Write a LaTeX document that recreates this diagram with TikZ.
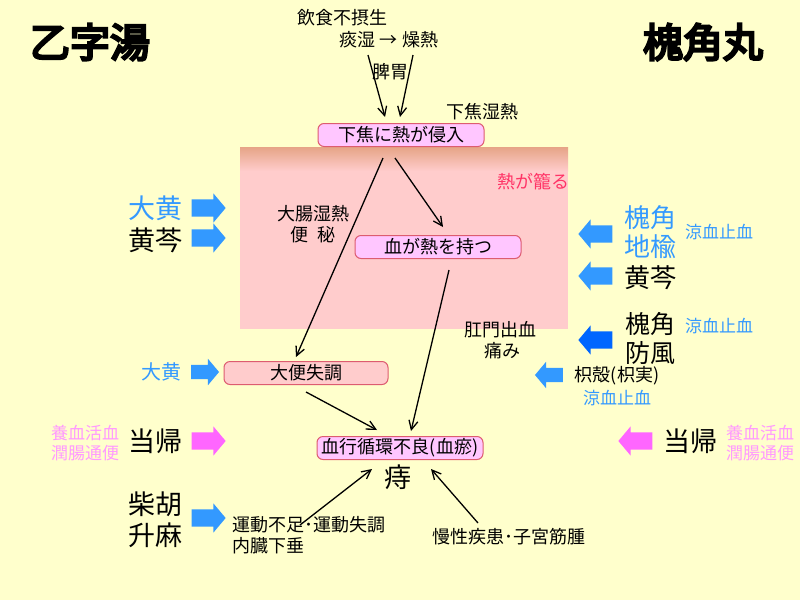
\documentclass[tikz,border=0pt]{standalone}
\usepackage{fontspec}
\usetikzlibrary{shapes.arrows,arrows.meta}
\newfontfamily\cjk{Noto Sans CJK JP}
\newfontfamily\brush[FakeBold=6]{Noto Sans CJK JP}

\definecolor{paper}{HTML}{FFFFCC}
\definecolor{zone}{HTML}{FFCCCC}
\definecolor{bandtop}{HTML}{E6A486}
\definecolor{boxpink}{HTML}{FFC6FF}
\definecolor{boxline}{HTML}{DD5C70}
\definecolor{medblue}{HTML}{3399FF}
\definecolor{deepblue}{HTML}{0066FF}
\definecolor{medpink}{HTML}{FF66FF}
\definecolor{softpink}{HTML}{FF99FF}
\definecolor{hotred}{HTML}{FF3366}

\begin{document}
\begin{tikzpicture}[x=1pt, y=-1pt,
    every node/.style={font=\cjk\fontsize{18}{21}\selectfont, inner sep=0pt},
    big/.style={font=\cjk\fontsize{27}{31}\selectfont, align=center},
    small/.style={font=\cjk\fontsize{17}{20}\selectfont, align=center},
    box/.style={draw=boxline, fill=boxpink, rounded corners=6pt, line width=1pt, minimum width=166pt, minimum height=23pt},
    blockr/.style={single arrow, fill=medblue, inner sep=8.5pt, minimum height=34pt, single arrow head extend=6pt, single arrow tip angle=100},
    blockl/.style={blockr, shape border rotate=180},
    flow/.style={-{Straight Barb[length=9pt, width=9pt]}, line width=1.3pt}]

    \fill[paper] (0,0) rectangle (800,600);
    \shade[top color=bandtop, bottom color=zone] (240,147) rectangle (568,171);
    \fill[zone] (240,171) rectangle (568,329);

    \node[font=\brush\fontsize{40}{44}\selectfont] (T1) at (90,42) {乙字湯};
    \node[font=\brush\fontsize{40}{44}\selectfont] (T2) at (703,42) {槐角丸};

    \node (A) at (342,18) {飲食不摂生};
    \node (B) at (389,40) {痰湿 → 燥熱};
    \node (C) at (390,72) {脾胃};
    \node (D) at (482,112) {下焦湿熱};
    \node[box] (E) at (401,135) {下焦に熱が侵入};
    \node[text=hotred] (F) at (533,182) {熱が籠る};
    \node[align=center] (G) at (313,224) {大腸湿熱\\便\ \ 秘};
    \node[box] (H) at (438,247) {血が熱を持つ};
    \node[align=center] (I) at (500,340) {肛門出血\\\ 痛み};
    \node[box, fill=zone, minimum width=164pt] (J) at (306,373) {大便失調};
    \node[box] (K) at (400,448) {血行循環不良(血瘀)};
    \node[big] (L) at (398,477) {痔};
    \node[align=left, anchor=north west] (M) at (232,516) {運動不足･運動失調\\内臓下垂};
    \node (N) at (509,537) {慢性疾患･子宮筋腫};

    \coordinate (a1) at (368,55);
    \coordinate (b1) at (413,55);
    \coordinate (c1) at (383,158);
    \coordinate (d1) at (395,158);
    \coordinate (e1) at (449,270);
    \coordinate (f1) at (306,392);
    \coordinate (g1) at (300,525);
    \coordinate (h1) at (478,523);

    \draw[flow] (a1) -- (385,117);
    \draw[flow] (b1) -- (400,117);
    \draw[flow] (c1) -- (296,357);
    \draw[flow] (d1) -- (443,227);
    \draw[flow] (e1) -- (411,431);
    \draw[flow] (f1) -- (377,430);
    \draw[flow] (g1) -- (372,469);
    \draw[flow] (h1) -- (431,469);

    \node[big, text=medblue] (P1) at (155,208) {大黄};
    \node[big] (P2) at (155,240) {黄芩};
    \node[blockr] (Q1) at (205,208) {};
    \node[blockr] (Q2) at (205,238) {};

    \node[small, text=medblue, font=\cjk\fontsize{20}{22}\selectfont] (P3) at (161,372) {大黄};
    \node[blockr, inner sep=7pt, minimum height=28pt, single arrow head extend=6pt] (Q3) at (202,372) {};

    \node[small, text=softpink] (P4) at (85,443) {養血活血\\潤腸通便};
    \node[big] (P5) at (155,441) {当帰};
    \node[blockr, fill=medpink] (Q4) at (205,441) {};

    \node[big] (P6) at (155,520) {柴胡\\升麻};
    \node[blockr] (Q5) at (205,518) {};

    \node[big, text=medblue, font=\cjk\fontsize{26}{29}\selectfont] (R1) at (650,232) {槐角\\地楡};
    \node[small, text=medblue] (R2) at (719,232) {涼血止血};
    \node[blockl] (S1) at (599,234) {};
    \node[big, font=\cjk\fontsize{26}{29}\selectfont] (R3) at (650,278) {黄芩};
    \node[blockl] (S2) at (599,276) {};

    \node[big, font=\cjk\fontsize{25}{29}\selectfont] (R4) at (650,338) {槐角\\防風};
    \node[small, text=medblue] (R5) at (719,326) {涼血止血};
    \node[blockl, fill=deepblue] (S3) at (599,340) {};

    \node (R6) at (617,376) {枳殻(枳実)};
    \node[small, text=medblue] (R7) at (617,398) {涼血止血};
    \node[blockl, inner sep=7pt, minimum height=28pt] (S4) at (552,375) {};

    \node[big] (R8) at (690,441) {当帰};
    \node[small, text=softpink] (R9) at (760,443) {養血活血\\潤腸通便};
    \node[blockl, fill=medpink] (S5) at (639,441) {};
\end{tikzpicture}
\end{document}
